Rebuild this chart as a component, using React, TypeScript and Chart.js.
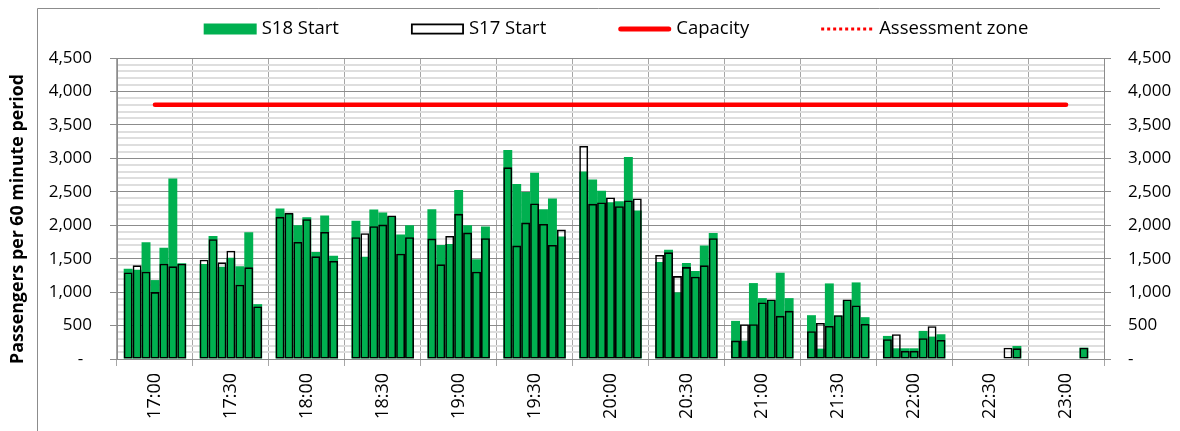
import React, { useEffect, useRef } from 'react';
import { Chart, registerables } from 'chart.js';

Chart.register(...registerables);

// Half-hour labels on the category axis
const timeLabels = ['17:00', '17:30', '18:00', '18:30', '19:00', '19:30', '20:00', '20:30', '21:00', '21:30', '22:00', '22:30', '23:00'];

// Seven rolling 60-minute values shown inside every half-hour group
const s18Start: (number | null)[][] = [
  [1350, 1335, 1745, 1180, 1665, 2700, 1430],
  [1420, 1840, 1380, 1515, 1385, 1895, 820],
  [2250, 2175, 2000, 2120, 1600, 2145, 1545],
  [2065, 1530, 2235, 2190, 2125, 1860, 2000],
  [2240, 1705, 1720, 2525, 2000, 1490, 1980],
  [3125, 2615, 2495, 2785, 2240, 2400, 1830],
  [2805, 2685, 2515, 2345, 2360, 3020, 2220],
  [1450, 1635, 995, 1435, 1315, 1695, 1885],
  [570, 275, 1135, 910, 880, 1290, 910],
  [655, 155, 1130, 650, 880, 1145, 625],
  [345, 160, 160, 160, 420, 335, 370],
  [null, null, null, null, null, null, 195],
  [null, null, null, null, null, 170, null],
];

const s17Start: (number | null)[][] = [
  [1295, 1400, 1305, 1000, 1425, 1385, 1425],
  [1485, 1790, 1445, 1620, 1110, 1370, 785],
  [2125, 2185, 1750, 2090, 1535, 1900, 1465],
  [1820, 1880, 1985, 2010, 2145, 1575, 1820],
  [1800, 1415, 1840, 2170, 1890, 1305, 1805],
  [2865, 1695, 2040, 2325, 2020, 1705, 1935],
  [3185, 2320, 2340, 2415, 2285, 2370, 2400],
  [1555, 1595, 1240, 1375, 1230, 1400, 1805],
  [275, 520, 520, 845, 890, 645, 720],
  [415, 540, 495, 655, 890, 800, 525],
  [295, 370, 120, 120, 310, 490, 285],
  [null, null, null, null, null, 170, 160],
  [null, null, null, null, null, 170, null],
];

const capacity = [3800, 3800, 3800, 3800, 3800, 3800, 3800, 3800, 3800, 3800, 3800, 3800, 3800];
const assessmentZone: (number | null)[] = [null, null, null, null, null, null, null, null, null, null, null, null, null];

const yAxisTitle = 'Passengers per 60 minute period';
const yMin = 0;
const yMax = 4500;
const yMinorStep = 100;
const yMajorStep = 500;

const GREEN = '#00b050';
const RED = '#ff0000';
const MAJOR = '#8c8c8c';
const MINOR = '#dedede';
const FONT = '"Open Sans", sans-serif';

const isMajor = (v: number) => Math.abs(v % yMajorStep) < 1e-6;
const fmt = (v: number) => v.toLocaleString('en-US');

const legendPlugin = {
  id: 'customLegend',
  afterDraw(chart: any) {
    const ctx = chart.ctx;
    const items = [
      { text: 'S18 Start', kind: 'box' },
      { text: 'S17 Start', kind: 'outline' },
      { text: 'Capacity', kind: 'line' },
      { text: 'Assessment zone', kind: 'dots' },
    ];
    const boxW = 53;
    const gap = 5;
    const itemGap = 72;
    const cy = 29;
    ctx.save();
    ctx.font = `18.5px ${FONT}`;
    const widths = items.map((it) => ctx.measureText(it.text).width);
    const total = widths.reduce((a, w) => a + boxW + gap + w, 0) + itemGap * (items.length - 1);
    let x = 616 - total / 2;
    items.forEach((it, i) => {
      if (it.kind === 'box') {
        ctx.fillStyle = GREEN;
        ctx.fillRect(x, cy - 5.5, boxW, 11);
      } else if (it.kind === 'outline') {
        ctx.fillStyle = '#fff';
        ctx.fillRect(x, cy - 5.5, boxW, 11);
        ctx.strokeStyle = '#000';
        ctx.lineWidth = 1.8;
        ctx.strokeRect(x + 0.9, cy - 5.5 + 0.9, boxW - 1.8, 11 - 1.8);
      } else if (it.kind === 'line') {
        ctx.strokeStyle = RED;
        ctx.lineWidth = 5;
        ctx.lineCap = 'round';
        ctx.beginPath();
        ctx.moveTo(x + 2.5, cy);
        ctx.lineTo(x + boxW - 2.5, cy);
        ctx.stroke();
      } else {
        ctx.strokeStyle = RED;
        ctx.lineWidth = 3;
        ctx.lineCap = 'butt';
        ctx.setLineDash([3, 3]);
        ctx.beginPath();
        ctx.moveTo(x, cy);
        ctx.lineTo(x + boxW, cy);
        ctx.stroke();
        ctx.setLineDash([]);
      }
      ctx.fillStyle = '#000';
      ctx.textBaseline = 'middle';
      ctx.textAlign = 'left';
      ctx.fillText(it.text, x + boxW + gap, cy);
      x += boxW + gap + widths[i] + itemGap;
    });
    ctx.restore();
  },
};

const framePlugin = {
  id: 'frame',
  afterDraw(chart: any) {
    const ctx = chart.ctx;
    ctx.save();
    ctx.strokeStyle = '#8c8c8c';
    ctx.lineWidth = 1;
    ctx.beginPath();
    ctx.moveTo(37.5, 431);
    ctx.lineTo(37.5, 8.5);
    ctx.lineTo(1160, 8.5);
    ctx.stroke();
    // vertical axis title, placed like the original (centred a little below the plot centre)
    ctx.translate(18, 219);
    ctx.rotate(-Math.PI / 2);
    ctx.fillStyle = '#000';
    ctx.font = `bold 17.8px ${FONT}`;
    ctx.textAlign = 'center';
    ctx.textBaseline = 'middle';
    ctx.fillText(yAxisTitle, 0, 0);
    ctx.restore();
  },
};

export default function App() {
  const canvasRef = useRef<HTMLCanvasElement | null>(null);

  useEffect(() => {
    if (!canvasRef.current) return;
    Chart.defaults.font.family = FONT;

    const barSlots = [0, 1, 2, 3, 4, 5, 6];
    const catPct = 7 / 8.5;
    const datasets: any[] = [];
    barSlots.forEach((k) => {
      datasets.push({
        type: 'bar',
        label: 'S18 Start',
        data: s18Start.map((g) => g[k]),
        backgroundColor: GREEN,
        borderWidth: 0,
        stack: 'slot' + k,
        order: 2,
        barPercentage: 1,
        categoryPercentage: catPct,
        yAxisID: 'y',
      });
    });
    barSlots.forEach((k) => {
      datasets.push({
        type: 'bar',
        label: 'S17 Start',
        data: s17Start.map((g) => g[k]),
        backgroundColor: 'rgba(0,0,0,0)',
        borderColor: '#000',
        borderWidth: 1.6,
        borderSkipped: false,
        stack: 'slot' + k,
        order: 1,
        barPercentage: 1,
        categoryPercentage: catPct,
        yAxisID: 'y',
      });
    });
    datasets.push({
      type: 'line',
      label: 'Capacity',
      data: capacity,
      borderColor: RED,
      backgroundColor: RED,
      borderWidth: 4.5,
      borderCapStyle: 'round',
      pointRadius: 0,
      order: 0,
      yAxisID: 'y',
    });
    datasets.push({
      type: 'line',
      label: 'Assessment zone',
      data: assessmentZone,
      borderColor: RED,
      backgroundColor: RED,
      borderWidth: 3,
      borderDash: [3, 3],
      pointRadius: 0,
      order: 0,
      yAxisID: 'y',
    });

    const gridColor = (c: any) => (c.tick && isMajor(c.tick.value) ? MAJOR : MINOR);
    const gridWidth = (c: any) => (c.tick && isMajor(c.tick.value) ? 1 : 2);
    const tickColor = (c: any) => (c.tick && isMajor(c.tick.value) ? MAJOR : 'rgba(0,0,0,0)');

    const chart = new Chart(canvasRef.current, {
      type: 'bar',
      data: { labels: timeLabels, datasets },
      plugins: [legendPlugin, framePlugin],
      options: {
        animation: false,
        responsive: false,
        devicePixelRatio: 1,
        layout: { padding: { top: 58, left: 0, right: 0, bottom: 0 } },
        plugins: {
          legend: { display: false },
          tooltip: { enabled: false },
          title: { display: false },
        },
        scales: {
          x: {
            type: 'category',
            stacked: true,
            offset: true,
            grid: {
              offset: true,
              color: '#a6a6a6',
              lineWidth: 1,
              tickLength: 7,
              tickColor: '#a6a6a6',
            },
            border: { color: MAJOR, width: 1 },
            ticks: {
              autoSkip: false,
              maxRotation: 90,
              minRotation: 90,
              padding: 7,
              color: '#000',
              font: { size: 18 },
            },
            afterFit: (s: any) => {
              s.height = 72;
            },
          },
          y: {
            type: 'linear',
            position: 'left',
            min: yMin,
            max: yMax,
            stacked: false,
            grid: {
              color: gridColor,
              lineWidth: gridWidth,
              tickLength: 7,
              tickColor: tickColor,
              tickWidth: 1,
            },
            border: { color: MAJOR, width: 1 },
            ticks: {
              stepSize: yMinorStep,
              autoSkip: false,
              padding: 18,
              color: '#000',
              font: { size: 17 },
              callback: (v: any) => (isMajor(Number(v)) ? (Number(v) === 0 ? '-  ' : fmt(Number(v))) : ''),
            },
            afterFit: (s: any) => {
              s.width = 117;
            },
          },
          y2: {
            type: 'linear',
            position: 'right',
            min: yMin,
            max: yMax,
            grid: {
              drawOnChartArea: false,
              color: gridColor,
              tickLength: 7,
              tickColor: tickColor,
              tickWidth: 1,
            },
            border: { color: MAJOR, width: 1 },
            ticks: {
              stepSize: yMinorStep,
              autoSkip: false,
              padding: 17,
              color: '#000',
              font: { size: 17 },
              callback: (v: any) => (isMajor(Number(v)) ? (Number(v) === 0 ? '-' : fmt(Number(v))) : ''),
            },
            afterFit: (s: any) => {
              s.width = 76;
            },
          },
        },
      } as any,
    });

    return () => {
      chart.destroy();
    };
  }, []);

  return (
    <div style={{ position: 'absolute', left: 0, top: 0, width: 1180, height: 431, background: '#fff' }}>
      <canvas ref={canvasRef} width={1180} height={431} style={{ display: 'block', width: 1180, height: 431 }} />
    </div>
  );
}
